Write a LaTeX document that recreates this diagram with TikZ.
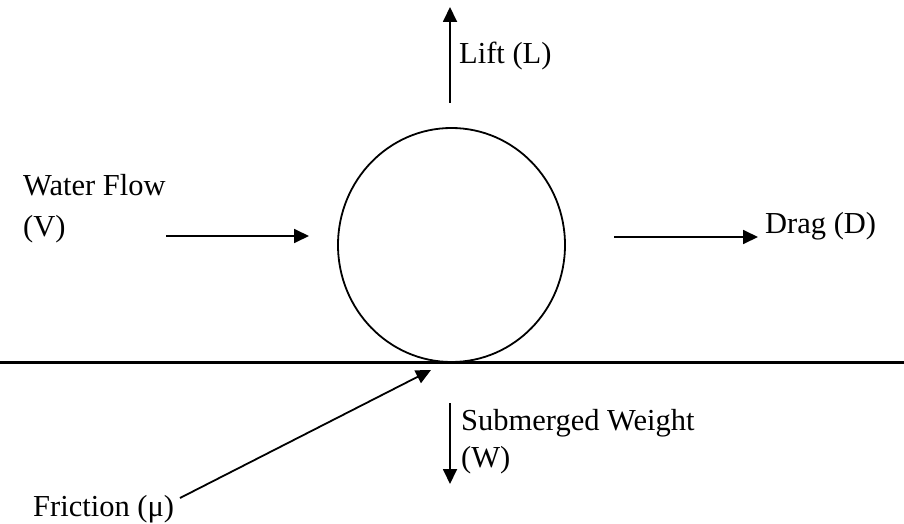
\documentclass[tikz,border=0pt]{standalone}
\usepackage{fontspec}
\setmainfont{Liberation Serif}
\usetikzlibrary{arrows.meta,shapes.geometric}
\begin{document}
\begin{tikzpicture}[x=1pt,y=-1pt,
  force/.style={line width=1.8pt,-{Triangle[length=15pt,width=14pt]}},
  lbl/.style={anchor=base west,inner sep=0pt,font=\fontsize{30.5}{36}\selectfont},
  ballstyle/.style={draw,ellipse,line width=1.8pt,inner sep=0pt,minimum width=227pt,minimum height=234pt}]
\useasboundingbox (0,0) rectangle (904,524);
% ball and ground
\node[ballstyle] (ball) at (451.5,245) {};
\coordinate (gl) at (0,362);
\coordinate (gr) at (904,362);
\draw[line width=3pt] (gl) -- (gr);
% arrow end points
\coordinate (liftA) at (450,103);
\coordinate (liftB) at (450,7);
\coordinate (flowA) at (166,236);
\coordinate (flowB) at (309,236);
\coordinate (dragA) at (614,237);
\coordinate (dragB) at (758,237);
\coordinate (fricA) at (180,498);
\coordinate (fricB) at (431,370);
\coordinate (wA) at (450,403);
\coordinate (wB) at (450,484);
% arrows
\draw[force] (liftA) -- (liftB);
\draw[force] (flowA) -- (flowB);
\draw[force] (dragA) -- (dragB);
\draw[force] (fricA) -- (fricB);
\draw[force] (wA) -- (wB);
% labels
\node[lbl] (lift) at (459,64) {Lift (L)};
\node[lbl] (flow1) at (23,195) {Water Flow};
\node[lbl] (flow2) at (23,236) {(V)};
\node[lbl] (drag) at (765,233) {Drag (D)};
\node[lbl] (sw1) at (461,430) {Submerged Weight};
\node[lbl] (sw2) at (461,467) {(W)};
\node[lbl] (fric) at (33,516) {Friction (μ)};
\end{tikzpicture}
\end{document}
